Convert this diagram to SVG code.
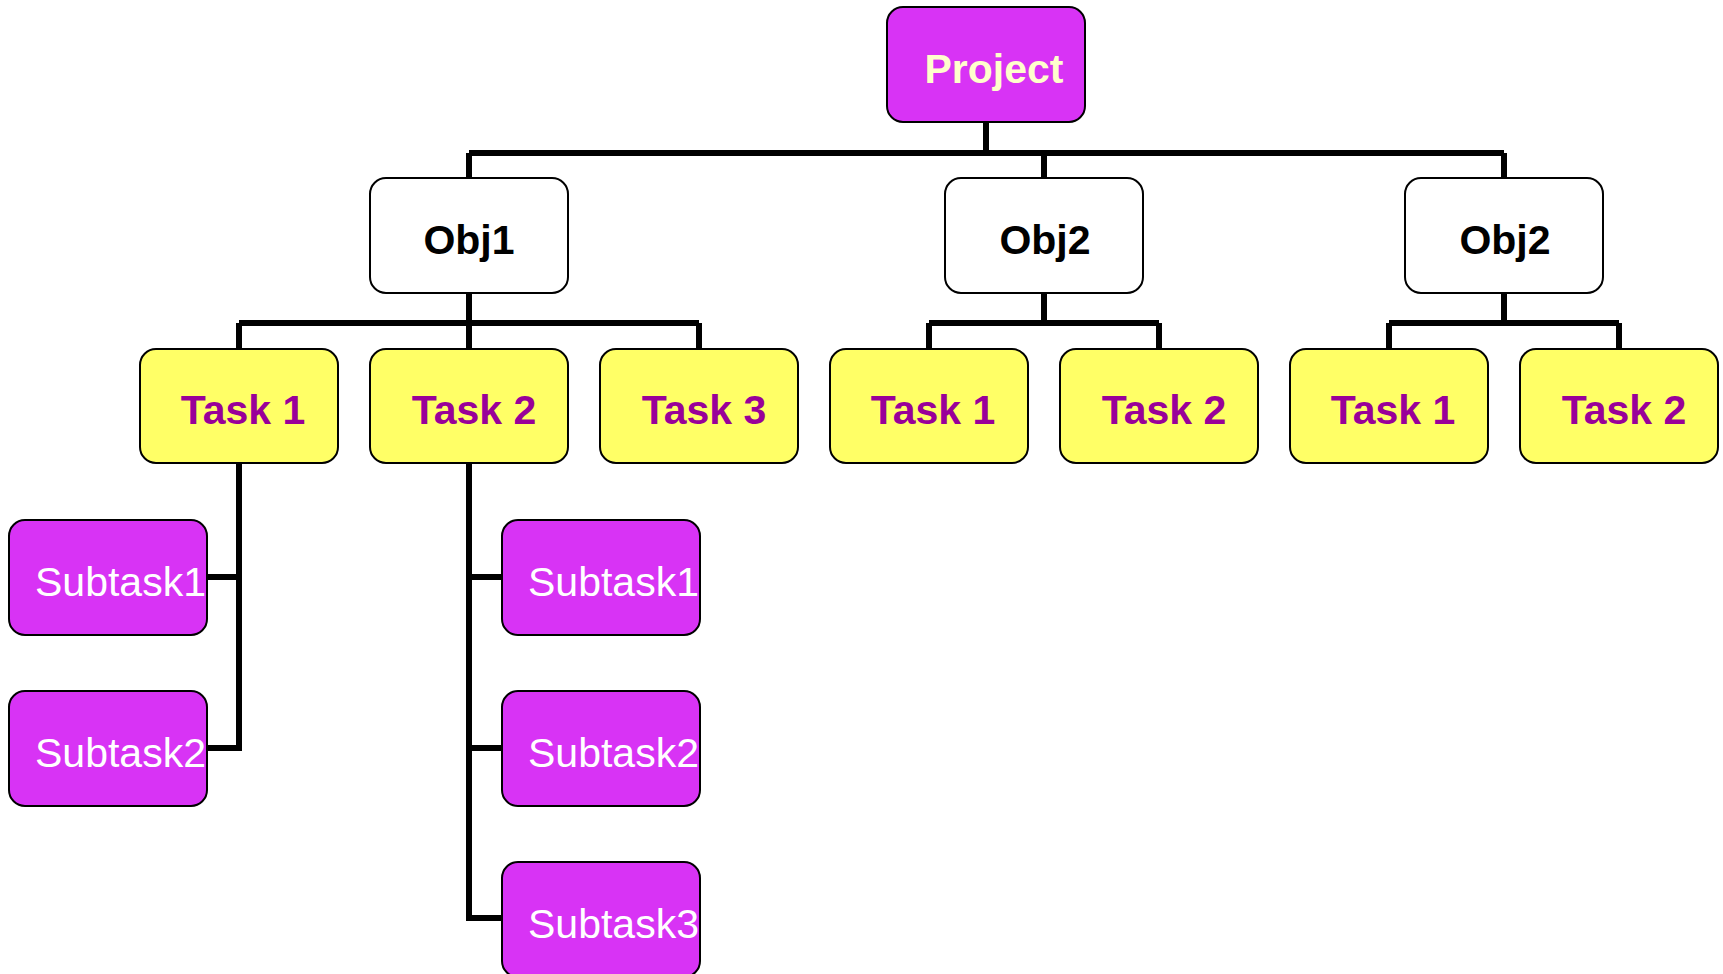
<svg xmlns="http://www.w3.org/2000/svg" width="1723" height="974" viewBox="0 0 1723 974">
<style>
.box{stroke:#000;stroke-width:2}
.proj{fill:#D833F5}
.obj{fill:#FFFFFF}
.task{fill:#FFFF66}
.sub{fill:#D833F5}
.t{font-family:"Liberation Sans",Arial,sans-serif;font-size:41px}
.tp{font-weight:bold;fill:#FFFFCC;text-anchor:middle}
.to{font-weight:bold;fill:#000;text-anchor:middle}
.tt{font-weight:bold;fill:#990099;text-anchor:middle}
.ts{fill:#FFFFFF}
.c{fill:none;stroke:#000;stroke-width:6}
</style>
<rect width="1723" height="974" fill="#FFFFFF"/>
<g id="connectors">
<path class="c" d="M986 122V153M469 153H1504M469 153V178M1044 153V178M1504 153V178"/>
<path class="c" d="M469 293V323M239 323H699M239 323V349M469 323V349M699 323V349"/>
<path class="c" d="M1044 293V323M929 323H1159M929 323V349M1159 323V349"/>
<path class="c" d="M1504 293V323M1389 323H1619M1389 323V349M1619 323V349"/>
<path class="c" d="M239 463V748H207M239 577H207"/>
<path class="c" d="M469 463V918H502M469 577H502M469 748H502"/>
</g>
<g id="project"><rect class="box proj" x="887" y="7" width="198" height="115" rx="16"/><text class="t tp" x="994" y="83">Project</text></g>
<g id="obj1"><rect class="box obj" x="370" y="178" width="198" height="115" rx="16"/><text class="t to" x="469" y="254">Obj1</text></g>
<g id="obj2a"><rect class="box obj" x="945" y="178" width="198" height="115" rx="16"/><text class="t to" x="1045" y="254">Obj2</text></g>
<g id="obj2b"><rect class="box obj" x="1405" y="178" width="198" height="115" rx="16"/><text class="t to" x="1505" y="254">Obj2</text></g>
<g id="o1task1"><rect class="box task" x="140" y="349" width="198" height="114" rx="16"/><text class="t tt" x="243" y="424">Task 1</text></g>
<g id="o1task2"><rect class="box task" x="370" y="349" width="198" height="114" rx="16"/><text class="t tt" x="474" y="424">Task 2</text></g>
<g id="o1task3"><rect class="box task" x="600" y="349" width="198" height="114" rx="16"/><text class="t tt" x="704" y="424">Task 3</text></g>
<g id="o2task1"><rect class="box task" x="830" y="349" width="198" height="114" rx="16"/><text class="t tt" x="933" y="424">Task 1</text></g>
<g id="o2task2"><rect class="box task" x="1060" y="349" width="198" height="114" rx="16"/><text class="t tt" x="1164" y="424">Task 2</text></g>
<g id="o3task1"><rect class="box task" x="1290" y="349" width="198" height="114" rx="16"/><text class="t tt" x="1393" y="424">Task 1</text></g>
<g id="o3task2"><rect class="box task" x="1520" y="349" width="198" height="114" rx="16"/><text class="t tt" x="1624" y="424">Task 2</text></g>
<g id="t1sub1"><rect class="box sub" x="9" y="520" width="198" height="115" rx="16"/><text class="t ts" x="35" y="596">Subtask1</text></g>
<g id="t1sub2"><rect class="box sub" x="9" y="691" width="198" height="115" rx="16"/><text class="t ts" x="35" y="767">Subtask2</text></g>
<g id="t2sub1"><rect class="box sub" x="502" y="520" width="198" height="115" rx="16"/><text class="t ts" x="528" y="596">Subtask1</text></g>
<g id="t2sub2"><rect class="box sub" x="502" y="691" width="198" height="115" rx="16"/><text class="t ts" x="528" y="767">Subtask2</text></g>
<g id="t2sub3"><rect class="box sub" x="502" y="862" width="198" height="115" rx="16"/><text class="t ts" x="528" y="938">Subtask3</text></g>
</svg>
